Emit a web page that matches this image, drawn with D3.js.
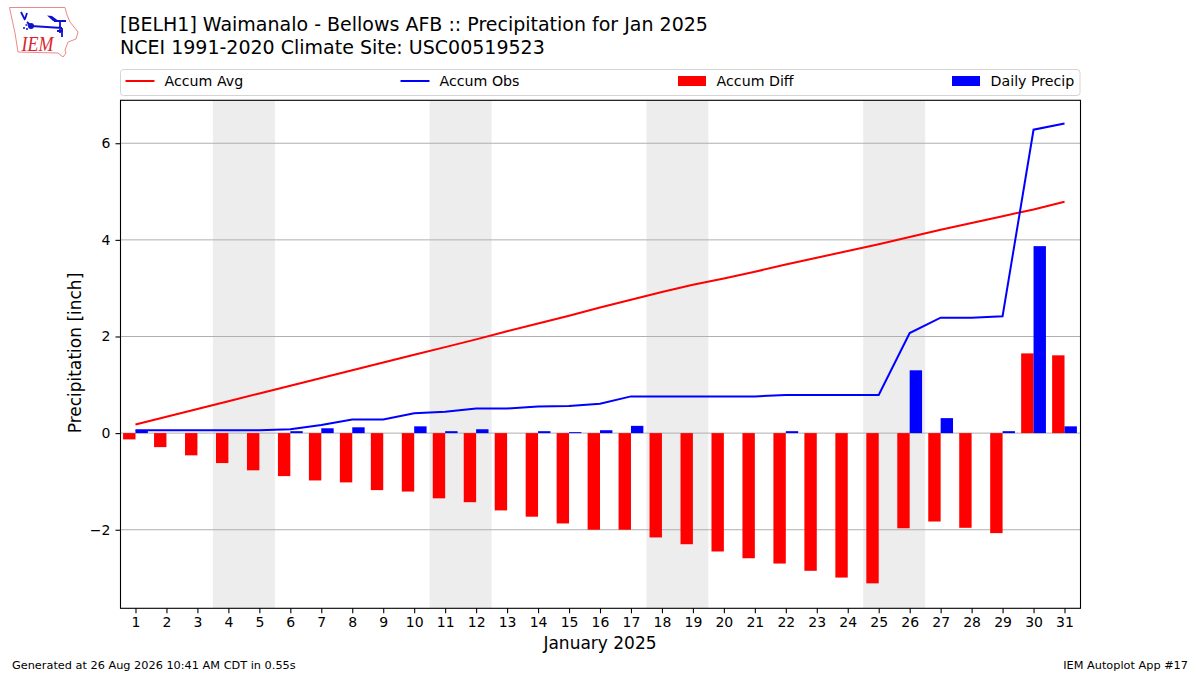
<!DOCTYPE html>
<html><head><meta charset="utf-8">
<script src="https://cdn.jsdelivr.net/npm/d3@7/dist/d3.min.js"></script>
<style>
html,body{margin:0;padding:0;background:#fff}
svg{display:block}
text{font-family:"DejaVu Sans",sans-serif;fill:#000}
</style></head><body>
<svg id="c" width="1200" height="675"></svg>
<script>
const days = d3.range(1, 32);
const weekendSpans = [[3.5,5.5],[10.5,12.5],[17.5,19.5],[24.5,26.5]];
const accumAvg = [0.18,0.34,0.50,0.66,0.82,0.98,1.14,1.30,1.46,1.62,1.78,1.94,2.11,2.27,2.43,2.60,2.76,2.92,3.07,3.20,3.34,3.49,3.63,3.77,3.91,4.06,4.21,4.35,4.49,4.63,4.79];
const accumObs = [0.06,0.06,0.06,0.06,0.06,0.08,0.17,0.28,0.28,0.41,0.44,0.51,0.51,0.55,0.56,0.61,0.76,0.76,0.76,0.76,0.76,0.79,0.79,0.79,0.79,2.07,2.39,2.39,2.42,6.28,6.41];
const accumDiff = [-0.13,-0.29,-0.46,-0.62,-0.77,-0.89,-0.98,-1.02,-1.18,-1.21,-1.35,-1.43,-1.60,-1.73,-1.87,-2.00,-2.00,-2.16,-2.30,-2.45,-2.59,-2.70,-2.85,-2.99,-3.11,-1.97,-1.83,-1.96,-2.07,1.65,1.61];
const dailyPrecip = [0.06,0,0,0,0,0.04,0.10,0.12,0,0.14,0.04,0.08,0,0.04,0.02,0.06,0.15,0,0,0,0,0.04,0,0,0,1.30,0.31,0,0.04,3.87,0.14];
const yTicks = [-2,0,2,4,6];
const legendItems = [
  {label:"Accum Avg",kind:"line",color:"#ff0000"},
  {label:"Accum Obs",kind:"line",color:"#0000ff"},
  {label:"Accum Diff",kind:"bar",color:"#ff0000"},
  {label:"Daily Precip",kind:"bar",color:"#0000ff"}];

const L=120.5,R=1080.5,T=100.3,B=608.3;
const x=d3.scaleLinear().domain([0.5,31.5]).range([120,1080]);
const y=d3.scaleLinear().domain([-3.62,6.895]).range([608,100]);
const svg=d3.select("#c");

// logo
const logo=svg.append("g");
logo.append("path").attr("d","M9.5,7.5 L65,7.5 L67,15 L70,22 L78,32 L76,39 L68,42 L65,50 L66,53 L63,57 L58,53 L18,52 L15,33 Z")
  .attr("fill","#fff").attr("stroke","#e88a8a").attr("stroke-width",1);
logo.append("path").attr("d","M31,26 L62,28 M54,21 L66,21 M60,21 L60,33 M27,22 L31,26 M25,20 L21,12 M25,19 L27,13 M57,31 L63,31 M62,28 L62,37")
  .attr("fill","none").attr("stroke","#1010d0").attr("stroke-width",1.8);
logo.append("circle").attr("cx",31).attr("cy",26).attr("r",3).attr("fill","#1010d0");
logo.append("path").attr("d","M47,15.5 L52,16 L60,22 L53,21 Z").attr("fill","#1010d0");
logo.append("path").attr("d","M23,28 h2 M25.5,25 h2 M26,29 h2").attr("stroke","#1010d0").attr("stroke-width",1.5);
logo.append("text").attr("x",21.5).attr("y",51).attr("font-size",21).attr("textLength",32).attr("lengthAdjust","spacingAndGlyphs").style("font-family","'Liberation Serif',serif").style("font-style","italic").style("fill","#d8242c").text("IEM");

// titles
svg.append("text").attr("x",120).attr("y",31).attr("font-size",19).text("[BELH1] Waimanalo - Bellows AFB :: Precipitation for Jan 2025");
svg.append("text").attr("x",120).attr("y",54).attr("font-size",19).text("NCEI 1991-2020 Climate Site: USC00519523");

// legend
svg.append("rect").attr("x",120.5).attr("y",69.5).attr("width",959.5).attr("height",26).attr("rx",3).attr("fill","#fff").attr("stroke","#d4d4d4");
const legendX=[125.5,400.5,678,952];
legendItems.forEach((d,i)=>{
  const lx=legendX[i];
  if(d.kind==="line") svg.append("line").attr("x1",lx).attr("x2",lx+29).attr("y1",81).attr("y2",81).attr("stroke",d.color).attr("stroke-width",2);
  else svg.append("rect").attr("x",lx).attr("y",76).attr("width",28).attr("height",10).attr("fill",d.color);
  svg.append("text").attr("x",lx+(d.kind==="line"?39:38.6)).attr("y",86).attr("font-size",14.2).text(d.label);
});

// plot
const plot=svg.append("g");
plot.selectAll("rect.w").data(weekendSpans).join("rect").attr("class","w")
  .attr("x",d=>x(d[0])).attr("width",d=>x(d[1])-x(d[0])).attr("y",T).attr("height",B-T).attr("fill","#ededed");
plot.selectAll("line.g").data(yTicks).join("line").attr("class","g")
  .attr("x1",L).attr("x2",R).attr("y1",d=>y(d)).attr("y2",d=>y(d)).attr("stroke","#b0b0b0").attr("stroke-width",1);
const bw=0.4;
plot.selectAll("rect.diff").data(days).join("rect").attr("class","diff")
  .attr("x",d=>x(d-bw)).attr("width",d=>x(d)-x(d-bw))
  .attr("y",(d,i)=>y(Math.max(0,accumDiff[i]))).attr("height",(d,i)=>Math.abs(y(accumDiff[i])-y(0))).attr("fill","#ff0000");
plot.selectAll("rect.daily").data(days).join("rect").attr("class","daily")
  .attr("x",d=>x(d)).attr("width",d=>x(d+bw)-x(d))
  .attr("y",(d,i)=>y(dailyPrecip[i])).attr("height",(d,i)=>y(0)-y(dailyPrecip[i])).attr("fill","#0000ff");
const line=d3.line().x(d=>x(d[0])).y(d=>y(d[1]));
plot.append("path").attr("d",line(days.map((d,i)=>[d,accumAvg[i]]))).attr("fill","none").attr("stroke","#ff0000").attr("stroke-width",2);
plot.append("path").attr("d",line(days.map((d,i)=>[d,accumObs[i]]))).attr("fill","none").attr("stroke","#0000ff").attr("stroke-width",2);

// frame and axes
svg.append("rect").attr("x",L).attr("y",T).attr("width",R-L).attr("height",B-T).attr("fill","none").attr("stroke","#000").attr("stroke-width",1.1);
const xa=svg.append("g").attr("transform",`translate(0,${B})`).call(d3.axisBottom(x).tickValues(days).tickFormat(d3.format("d")).tickSize(5).tickPadding(4));
const ya=svg.append("g").attr("transform",`translate(${L},0)`).call(d3.axisLeft(y).tickValues(yTicks).tickFormat(d=>d<0?"\u2212"+Math.abs(d):d).tickSize(5).tickPadding(5));
[xa,ya].forEach(a=>{a.select(".domain").remove();a.selectAll("text").attr("font-size",14).style("font-family",'"DejaVu Sans"').attr("fill","#000");a.selectAll("line").attr("stroke","#000").attr("stroke-width",1.1);a.attr("font-size",null)});

svg.append("text").attr("x",600).attr("y",649).attr("text-anchor","middle").attr("font-size",17).text("January 2025");
svg.append("text").attr("transform","translate(80.5,353) rotate(-90)").attr("text-anchor","middle").attr("font-size",17).text("Precipitation [inch]");
svg.append("text").attr("x",12).attr("y",669).attr("font-size",11.3).text("Generated at 26 Aug 2026 10:41 AM CDT in 0.55s");
svg.append("text").attr("x",1188).attr("y",669).attr("text-anchor","end").attr("font-size",11.3).text("IEM Autoplot App #17");
</script>
</body></html>
